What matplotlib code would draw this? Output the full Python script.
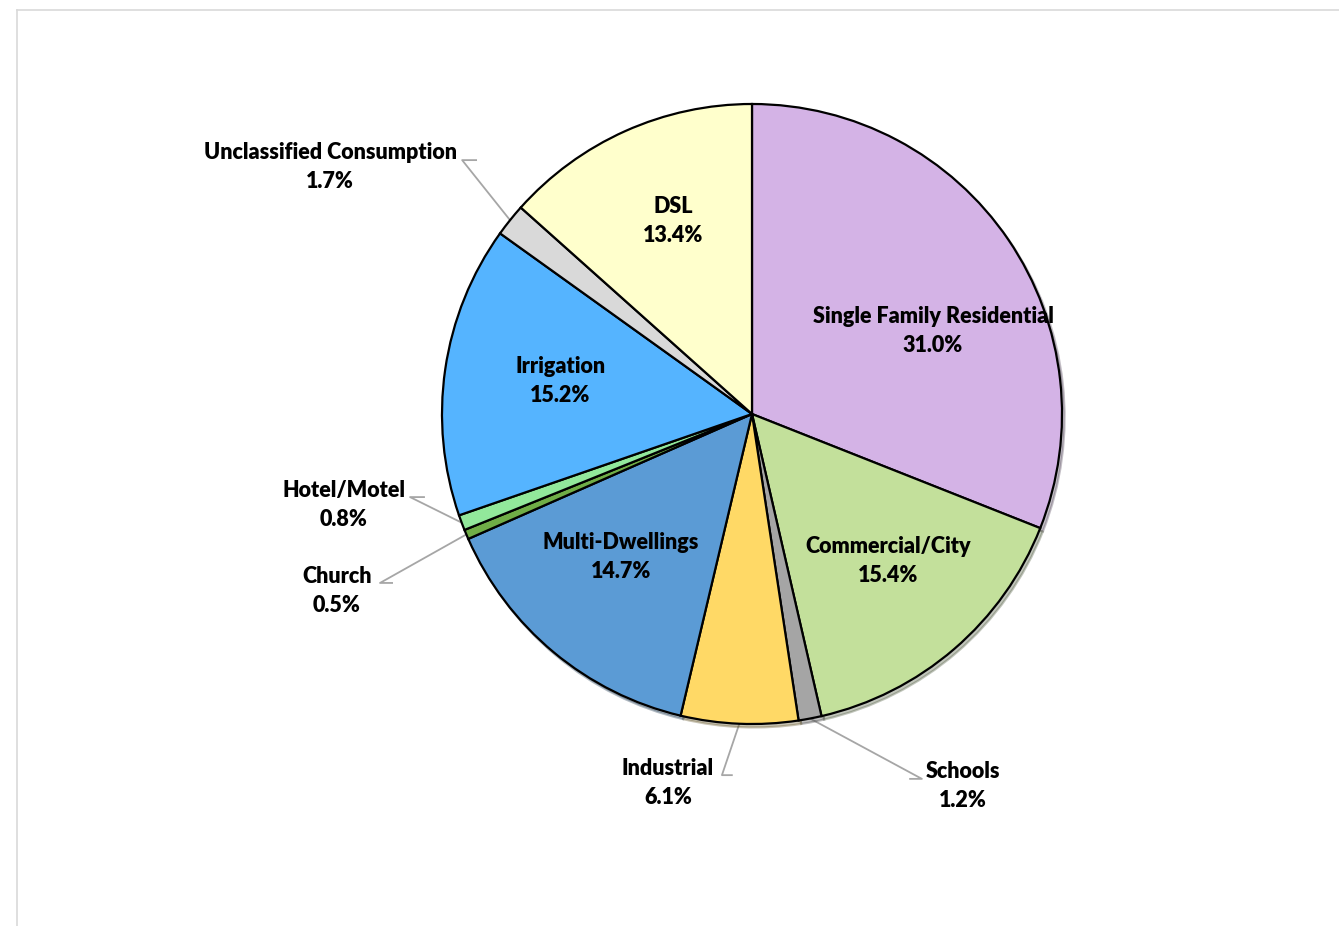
import numpy as np
import matplotlib.pyplot as plt
from matplotlib.lines import Line2D

# data
categories = ['Single Family Residential', 'Commercial/City', 'Schools', 'Industrial',
              'Multi-Dwellings', 'Church', 'Hotel/Motel', 'Irrigation',
              'Unclassified Consumption', 'DSL']
shares = [31.0, 15.4, 1.2, 6.1, 14.7, 0.5, 0.8, 15.2, 1.7, 13.4]
colors = ['#D4B3E6', '#C3E09B', '#A5A5A5', '#FFD966', '#5B9BD5',
          '#70AD47', '#92E89B', '#55B4FF', '#D9D9D9', '#FFFFCC']

# label layout (data units, pie radius = 1); None elbow = label sits inside the slice
label_pos = [(0.584, 0.268), (0.439, -0.474), (0.681, -1.20), (-0.271, -1.19),
             (-0.423, -0.461), (-1.339, -0.571), (-1.316, -0.294), (-0.619, 0.106),
             (-1.361, 0.797), (-0.255, 0.623)]
elbows = [None, None, ((0.510, -1.177), (0.548, -1.177)), ((-0.065, -1.165), (-0.097, -1.165)),
          None, ((-1.161, -0.545), (-1.2, -0.545)), ((-1.058, -0.268), (-1.103, -0.268)),
          None, ((-0.890, 0.819), (-0.935, 0.819)), None]

plt.rcParams['font.family'] = ['Lato', 'DejaVu Sans']

fig = plt.figure(figsize=(13.39, 9.26), dpi=100)

# chart area frame (top and left edges visible)
fig.add_artist(Line2D([17 / 1339, 1], [1 - 10 / 926, 1 - 10 / 926], color='#D9D9D9', lw=1.2))
fig.add_artist(Line2D([17 / 1339, 17 / 1339], [0, 1 - 10 / 926], color='#D9D9D9', lw=1.2))

R = 310
half = 400
ax = fig.add_axes([(752 - half) / 1339, (926 - 414 - half) / 926, 2 * half / 1339, 2 * half / 926])

wedges, _ = ax.pie(shares, colors=colors, startangle=90, counterclock=False, radius=1,
                   wedgeprops=dict(edgecolor='black', linewidth=1.6),
                   shadow=dict(ox=0.006, oy=-0.008, shade=0.6, alpha=0.35))
ax.set_xlim(-half / R, half / R)
ax.set_ylim(-half / R, half / R)
ax.set_aspect('equal')
ax.axis('off')

for w, name, val, pos, elb in zip(wedges, categories, shares, label_pos, elbows):
    ax.text(pos[0], pos[1], f'{name}\n{val:.1f}%', ha='center', va='center',
            fontsize=15.5, fontweight='heavy', linespacing=1.5, color='black')
    if elb is not None:
        mid = np.deg2rad((w.theta1 + w.theta2) / 2)
        ax.plot([elb[0][0], elb[1][0], np.cos(mid)], [elb[0][1], elb[1][1], np.sin(mid)],
                color='#A6A6A6', lw=1.3, zorder=0)

fig.savefig('out.png', dpi=100)
